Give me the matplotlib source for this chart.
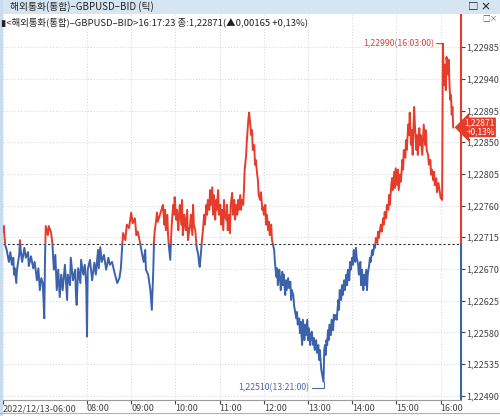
import numpy as np
import matplotlib
matplotlib.use('Agg')
import matplotlib.pyplot as plt
import matplotlib.transforms as mtransforms
from matplotlib.patches import Rectangle
from matplotlib.lines import Line2D

plt.rcParams['font.family'] = ['Noto Sans CJK KR', 'DejaVu Sans']

# tick data (time of day, GBPUSD bid)
times = [
    '06:06', '06:07', '06:09', '06:11', '06:14', '06:16', '06:18', '06:20', '06:21', '06:22',
    '06:24', '06:25', '06:28', '06:29', '06:30', '06:32', '06:35', '06:37', '06:40', '06:41',
    '06:44', '06:47', '06:49', '06:52', '06:54', '06:56', '06:58', '07:00', '07:02', '07:03',
    '07:04', '07:07', '07:08', '07:11', '07:13', '07:15', '07:17', '07:19', '07:21', '07:23',
    '07:25', '07:27', '07:30', '07:33', '07:34', '07:37', '07:38', '07:41', '07:44', '07:45',
    '07:46', '07:48', '07:51', '07:52', '07:55', '07:57', '07:59', '08:00', '08:01', '08:04',
    '08:07', '08:10', '08:12', '08:15', '08:16', '08:18', '08:20', '08:23', '08:26', '08:29',
    '08:31', '08:34', '08:38', '08:41', '08:44', '08:46', '08:48', '08:49', '08:52', '08:54',
    '08:57', '09:00', '09:02', '09:05', '09:07', '09:09', '09:12', '09:15', '09:17', '09:19',
    '09:20', '09:23', '09:26', '09:27', '09:28', '09:30', '09:31', '09:32', '09:34', '09:35',
    '09:36', '09:39', '09:42', '09:43', '09:45', '09:46', '09:47', '09:49', '09:50', '09:51',
    '09:53', '09:54', '09:55', '09:57', '09:58', '09:59', '10:01', '10:02', '10:04', '10:05',
    '10:06', '10:08', '10:09', '10:10', '10:12', '10:14', '10:16', '10:17', '10:20', '10:21',
    '10:23', '10:24', '10:25', '10:27', '10:28', '10:29', '10:31', '10:32', '10:33', '10:35',
    '10:36', '10:37', '10:39', '10:40', '10:42', '10:43', '10:44', '10:46', '10:47', '10:48',
    '10:50', '10:51', '10:52', '10:54', '10:55', '10:56', '10:58', '10:59', '11:01', '11:02',
    '11:03', '11:05', '11:06', '11:07', '11:09', '11:10', '11:11', '11:13', '11:14', '11:15',
    '11:17', '11:18', '11:20', '11:21', '11:22', '11:24', '11:25', '11:26', '11:28', '11:29',
    '11:30', '11:32', '11:33', '11:34', '11:36', '11:37', '11:39', '11:40', '11:41', '11:43',
    '11:44', '11:45', '11:47', '11:48', '11:49', '11:51', '11:52', '11:53', '11:55', '11:56',
    '11:58', '11:59', '12:00', '12:02', '12:03', '12:04', '12:06', '12:07', '12:08', '12:10',
    '12:11', '12:12', '12:14', '12:15', '12:17', '12:18', '12:19', '12:21', '12:22', '12:23',
    '12:25', '12:26', '12:27', '12:29', '12:30', '12:31', '12:33', '12:34', '12:36', '12:37',
    '12:38', '12:40', '12:41', '12:42', '12:44', '12:45', '12:46', '12:48', '12:49', '12:50',
    '12:52', '12:53', '12:55', '12:56', '12:57', '12:59', '13:00', '13:01', '13:03', '13:04',
    '13:05', '13:07', '13:08', '13:09', '13:11', '13:12', '13:14', '13:15', '13:16', '13:18',
    '13:21', '13:22', '13:23', '13:24', '13:25', '13:26', '13:27', '13:28', '13:29', '13:31',
    '13:32', '13:34', '13:35', '13:36', '13:38', '13:39', '13:41', '13:42', '13:43', '13:45',
    '13:46', '13:47', '13:49', '13:50', '13:52', '13:53', '13:54', '13:56', '13:57', '13:58',
    '14:00', '14:01', '14:02', '14:04', '14:05', '14:06', '14:08', '14:09', '14:11', '14:12',
    '14:13', '14:15', '14:16', '14:17', '14:19', '14:20', '14:21', '14:23', '14:24', '14:25',
    '14:27', '14:28', '14:30', '14:31', '14:32', '14:34', '14:35', '14:36', '14:38', '14:39',
    '14:40', '14:42', '14:43', '14:44', '14:46', '14:47', '14:49', '14:50', '14:51', '14:53',
    '14:54', '14:55', '14:57', '14:58', '14:59', '15:01', '15:02', '15:03', '15:05', '15:06',
    '15:08', '15:09', '15:10', '15:12', '15:13', '15:14', '15:16', '15:17', '15:18', '15:20',
    '15:21', '15:22', '15:24', '15:25', '15:27', '15:28', '15:29', '15:31', '15:32', '15:33',
    '15:35', '15:36', '15:37', '15:39', '15:40', '15:41', '15:43', '15:44', '15:46', '15:47',
    '15:48', '15:50', '15:51', '15:52', '15:54', '15:55', '15:57', '16:00', '16:02', '16:03',
    '16:04', '16:05', '16:06', '16:07', '16:08', '16:10', '16:11', '16:12', '16:13', '16:14',
    '16:15', '16:16', '16:17',
]
prices = [
    1.22723, 1.22731, 1.22704, 1.22697, 1.22680, 1.22694, 1.22676, 1.22686, 1.22662, 1.22671,
    1.22650, 1.22669, 1.22690, 1.22711, 1.22697, 1.22680, 1.22700, 1.22686, 1.22694, 1.22674,
    1.22688, 1.22671, 1.22680, 1.22654, 1.22671, 1.22640, 1.22657, 1.22650, 1.22600, 1.22683,
    1.22731, 1.22718, 1.22731, 1.22723, 1.22707, 1.22669, 1.22690, 1.22640, 1.22669, 1.22630,
    1.22662, 1.22640, 1.22676, 1.22626, 1.22662, 1.22647, 1.22686, 1.22654, 1.22669, 1.22633,
    1.22619, 1.22671, 1.22650, 1.22683, 1.22662, 1.22676, 1.22647, 1.22574, 1.22669, 1.22683,
    1.22654, 1.22679, 1.22662, 1.22697, 1.22671, 1.22701, 1.22680, 1.22690, 1.22669, 1.22686,
    1.22676, 1.22680, 1.22662, 1.22650, 1.22657, 1.22671, 1.22707, 1.22721, 1.22711, 1.22733,
    1.22728, 1.22750, 1.22735, 1.22742, 1.22718, 1.22723, 1.22707, 1.22690, 1.22680, 1.22697,
    1.22669, 1.22662, 1.22640, 1.22626, 1.22612, 1.22669, 1.22711, 1.22725, 1.22740, 1.22750,
    1.22737, 1.22747, 1.22757, 1.22761, 1.22733, 1.22754, 1.22725, 1.22747, 1.22718, 1.22704,
    1.22683, 1.22711, 1.22733, 1.22761, 1.22747, 1.22772, 1.22740, 1.22754, 1.22725, 1.22747,
    1.22761, 1.22733, 1.22768, 1.22718, 1.22747, 1.22725, 1.22754, 1.22711, 1.22733, 1.22747,
    1.22718, 1.22761, 1.22733, 1.22725, 1.22711, 1.22700, 1.22690, 1.22680, 1.22673, 1.22697,
    1.22711, 1.22721, 1.22747, 1.22733, 1.22761, 1.22747, 1.22768, 1.22754, 1.22782, 1.22761,
    1.22786, 1.22747, 1.22775, 1.22740, 1.22768, 1.22754, 1.22782, 1.22747, 1.22761, 1.22733,
    1.22754, 1.22725, 1.22768, 1.22747, 1.22740, 1.22761, 1.22725, 1.22747, 1.22721, 1.22761,
    1.22778, 1.22747, 1.22768, 1.22740, 1.22761, 1.22747, 1.22768, 1.22754, 1.22775, 1.22754,
    1.22768, 1.22761, 1.22782, 1.22811, 1.22832, 1.22853, 1.22882, 1.22892, 1.22882, 1.22860,
    1.22867, 1.22839, 1.22846, 1.22818, 1.22825, 1.22804, 1.22796, 1.22775, 1.22768, 1.22779,
    1.22754, 1.22758, 1.22747, 1.22761, 1.22733, 1.22747, 1.22725, 1.22737, 1.22718, 1.22733,
    1.22711, 1.22707, 1.22697, 1.22680, 1.22659, 1.22671, 1.22647, 1.22669, 1.22657, 1.22640,
    1.22666, 1.22647, 1.22662, 1.22633, 1.22654, 1.22640, 1.22657, 1.22643, 1.22652, 1.22626,
    1.22640, 1.22633, 1.22619, 1.22612, 1.22600, 1.22609, 1.22591, 1.22600, 1.22579, 1.22595,
    1.22562, 1.22598, 1.22569, 1.22591, 1.22576, 1.22598, 1.22569, 1.22586, 1.22562, 1.22576,
    1.22581, 1.22562, 1.22572, 1.22555, 1.22569, 1.22551, 1.22562, 1.22541, 1.22555, 1.22527,
    1.22510, 1.22555, 1.22562, 1.22548, 1.22569, 1.22562, 1.22583, 1.22569, 1.22591, 1.22576,
    1.22598, 1.22583, 1.22605, 1.22598, 1.22605, 1.22598, 1.22626, 1.22612, 1.22640, 1.22626,
    1.22647, 1.22633, 1.22654, 1.22640, 1.22662, 1.22647, 1.22669, 1.22654, 1.22680, 1.22669,
    1.22686, 1.22676, 1.22697, 1.22680, 1.22700, 1.22686, 1.22676, 1.22662, 1.22680, 1.22647,
    1.22669, 1.22640, 1.22662, 1.22647, 1.22669, 1.22640, 1.22662, 1.22676, 1.22686, 1.22680,
    1.22697, 1.22690, 1.22704, 1.22700, 1.22714, 1.22707, 1.22723, 1.22714, 1.22728, 1.22733,
    1.22723, 1.22742, 1.22733, 1.22751, 1.22742, 1.22761, 1.22754, 1.22775, 1.22761, 1.22789,
    1.22799, 1.22782, 1.22808, 1.22785, 1.22813, 1.22789, 1.22811, 1.22782, 1.22804, 1.22794,
    1.22825, 1.22811, 1.22839, 1.22828, 1.22853, 1.22839, 1.22875, 1.22860, 1.22892, 1.22846,
    1.22867, 1.22832, 1.22900, 1.22875, 1.22839, 1.22860, 1.22832, 1.22870, 1.22846, 1.22860,
    1.22832, 1.22853, 1.22875, 1.22846, 1.22867, 1.22839, 1.22832, 1.22818, 1.22825, 1.22804,
    1.22811, 1.22796, 1.22808, 1.22789, 1.22799, 1.22779, 1.22792, 1.22771, 1.22768, 1.22990,
    1.22953, 1.22931, 1.22960, 1.22924, 1.22971, 1.22946, 1.22967, 1.22931, 1.22910, 1.22917,
    1.22889, 1.22900, 1.22871,
]

prev_close = 1.22706
last_price = 1.22871
change_text = '+0,13%'
y_ticks = [1.22490, 1.22535, 1.22580, 1.22625, 1.22670, 1.22715,
           1.22760, 1.22805, 1.22850, 1.22895, 1.22940, 1.22985]
x_ticks = [6.1, 8, 9, 10, 11, 12, 13, 14, 15, 16]
x_labels = ['2022/12/13-06:00', '08:00', '09:00', '10:00', '11:00',
            '12:00', '13:00', '14:00', '15:00', '16:00']

RED = '#e63c2c'
BLUE = '#3b62aa'

hours = np.array([int(t[:2]) + int(t[3:]) / 60 for t in times])
prices = np.array(prices)


def fmt(v):
    return f'{v:.5f}'.replace('.', ',')


fig = plt.figure(figsize=(5, 4.16), dpi=100)
ax = fig.add_axes([0.006, 0.0385, 0.916, 0.9278])
ax.set_xlim(6.1, 16.46)
ax.set_ylim(1.22484, 1.23032)

# same line drawn twice, red above the previous close, blue below
for color, lo, hi in [(RED, prev_close, 1.2320), (BLUE, 1.2230, prev_close)]:
    ln, = ax.plot(hours, prices, color=color, lw=1.4, zorder=3)
    ln.set_clip_path(Rectangle((5, lo), 13, hi - lo, transform=ax.transData))

ax.axhline(prev_close, color='#333333', lw=0.8, ls=(0, (2, 2)), zorder=2)

ax.grid(True, color='#d4d4d4', lw=0.7, ls=(0, (1, 2)))
ax.set_axisbelow(True)

ax.yaxis.tick_right()
ax.set_yticks(y_ticks)
ax.set_yticklabels([fmt(v) for v in y_ticks])
ax.set_xticks(x_ticks)
ax.set_xticklabels(x_labels)
for lbl in ax.get_xticklabels():
    lbl.set_ha('left')
ax.tick_params(axis='y', direction='out', length=3, width=0.8, colors='#444444',
               labelsize=6.5, pad=1)
ax.tick_params(axis='x', direction='out', length=3, width=0.8, colors='#444444',
               labelsize=6.5, pad=0)

for side in ['top', 'left', 'right']:
    ax.spines[side].set_visible(False)
ax.spines['bottom'].set_color('#9a9a9a')
ax.spines['bottom'].set_linewidth(0.8)

# right axis line coloured like the price line
bt = mtransforms.blended_transform_factory(ax.transAxes, ax.transData)
ax.plot([1, 1], [prev_close, 1.23032], color=RED, lw=1.5, transform=bt, clip_on=False)
ax.plot([1, 1], [1.22484, prev_close], color=BLUE, lw=1.5, transform=bt, clip_on=False)

# high / low markers
i_max = int(np.argmax(prices))
i_min = int(np.argmin(prices))
ax.annotate(f'{fmt(prices[i_max])}({times[i_max]}:00)', xy=(hours[i_max], prices[i_max]),
            xytext=(-9, 0), textcoords='offset pixels', ha='right', va='center',
            fontsize=6.3, color='#d0463a',
            arrowprops=dict(arrowstyle='-', color='#d0463a', lw=0.8, shrinkA=0, shrinkB=0))
ax.annotate(f'{fmt(prices[i_min])}({times[i_min]}:00)', xy=(hours[i_min], prices[i_min]),
            xytext=(-14, -6), textcoords='offset pixels', ha='right', va='center',
            fontsize=6.3, color='#4a6aa4',
            arrowprops=dict(arrowstyle='-', color='#4a6aa4', lw=0.8, shrinkA=0, shrinkB=0,
                            connectionstyle='angle,angleA=0,angleB=90,rad=0'))

# last price tag
ax.text(1.074, last_price, f'{fmt(last_price)}\n{change_text}', transform=bt,
        ha='right', va='center', color='white', fontsize=6, linespacing=0.95,
        bbox=dict(boxstyle='larrow,pad=0.12', fc=RED, ec='none'), clip_on=False, zorder=5)

# window chrome
fig.patches.append(Rectangle((0, 1 - 14 / 416), 1, 14 / 416, transform=fig.transFigure,
                             fc='#d6e5f2', ec='none', zorder=0))
fig.patches.append(Rectangle((0, 0), 2.5 / 500, 1, transform=fig.transFigure,
                             fc='#c9dcee', ec='none', zorder=0))
fig.add_artist(Line2D([0, 1], [1 - 413 / 416] * 2, color='#b0b0b0', lw=0.8))
fig.text(10 / 500, 1 - 7 / 416, '해외통화(통합)–GBPUSD–BID (틱)', fontsize=7,
         color='#222222', va='center', ha='left')
fig.text(0.935, 1 - 7 / 416, '□ ×', fontsize=7.5, color='#222222', va='center', ha='left',
         fontweight='bold')
fig.text(0.965, 1 - 18 / 416, '□×', fontsize=5.5, color='#555555', va='center', ha='left')
fig.text(1 / 500, 1 - 22 / 416,
         '▮<해외통화(통합)–GBPUSD–BID>16:17:23 종:1,22871(▲0,00165 +0,13%)',
         fontsize=6.8, color='#222222', va='center', ha='left')

fig.savefig('out.png', dpi=100)
